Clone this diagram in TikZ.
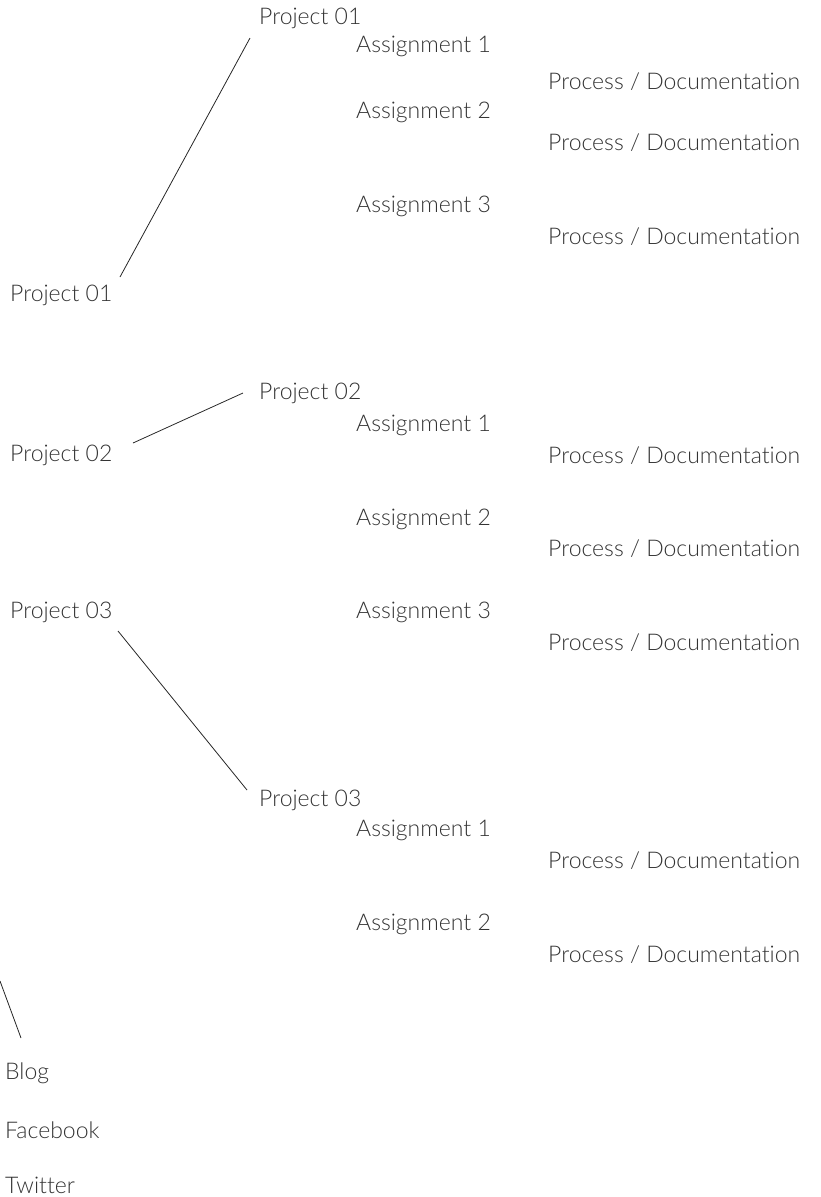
\documentclass[tikz,border=0pt]{standalone}
\usepackage{fontspec}
\setmainfont{Lato}[UprightFont=* Light,RawFeature={-liga;-dlig;-clig}]
\definecolor{txt}{HTML}{333333}
\begin{document}
\begin{tikzpicture}[x=1pt,y=-1pt,
  lbl/.style={anchor=west,inner sep=0pt,text=txt,font=\fontsize{23}{26}\selectfont},
  conn/.style={draw=black!85,line width=0.8pt}]
\path[use as bounding box] (0,0) rectangle (821,1197);
% Project 01 block
\node[lbl] (p1r) at (259,18) {Project 01};
\node[lbl] (p1a1) at (356,46) {Assignment 1};
\node[lbl] (p1d1) at (548,82) {Process / Documentation};
\node[lbl] (p1a2) at (356,112) {Assignment 2};
\node[lbl] (p1d2) at (548,143) {Process / Documentation};
\node[lbl] (p1a3) at (356,206) {Assignment 3};
\node[lbl] (p1d3) at (548,237) {Process / Documentation};
\node[lbl] (p1l) at (10,295) {Project 01};
% Project 02 block
\node[lbl] (p2r) at (259,393) {Project 02};
\node[lbl] (p2a1) at (356,425) {Assignment 1};
\node[lbl] (p2l) at (10,455) {Project 02};
\node[lbl] (p2d1) at (548,456) {Process / Documentation};
\node[lbl] (p2a2) at (356,519) {Assignment 2};
\node[lbl] (p2d2) at (548,549) {Process / Documentation};
\node[lbl] (p3l) at (10,612) {Project 03};
\node[lbl] (p2a3) at (356,612) {Assignment 3};
\node[lbl] (p2d3) at (548,643) {Process / Documentation};
% Project 03 block
\node[lbl] (p3r) at (259,800) {Project 03};
\node[lbl] (p3a1) at (356,830) {Assignment 1};
\node[lbl] (p3d1) at (548,861) {Process / Documentation};
\node[lbl] (p3a2) at (356,924) {Assignment 2};
\node[lbl] (p3d2) at (548,955) {Process / Documentation};
% links
\node[lbl] (blog) at (5,1073) {Blog};
\node[lbl] (fb) at (5,1130) {Facebook};
\node[lbl] (tw) at (5,1185) {Twitter};
\coordinate (blogtop) at (0,981);
% connectors
\draw[conn] ([shift={(110,-18)}]p1l.west) -- ([shift={(-9,20)}]p1r.west);
\draw[conn] ([shift={(123,-12)}]p2l.west) -- ([shift={(-16,0)}]p2r.west);
\draw[conn] ([shift={(108,19)}]p3l.west) -- ([shift={(-12,-10)}]p3r.west);
\draw[conn] (blogtop) -- ([shift={(16,-35)}]blog.west);
\end{tikzpicture}
\end{document}
